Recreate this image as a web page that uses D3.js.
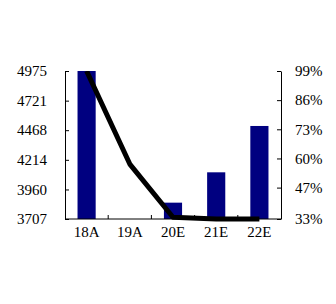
<!DOCTYPE html>
<html>
<head>
<meta charset="utf-8">
<script src="https://cdn.jsdelivr.net/npm/d3@7"></script>
<style>
  html, body { margin: 0; padding: 0; background: #fff; }
  svg { display: block; }
  svg text { font-family: "Liberation Serif", "Times New Roman", Times, serif !important; font-size: 15px !important; fill: #000; }
</style>
</head>
<body>
<svg id="chart" width="336" height="304"></svg>
<script>
  const categories = ["18A", "19A", "20E", "21E", "22E"];
  const barValues = [4975, 3707, 3847, 4107, 4504];
  const lineValues = [99, 57.5, 33.8, 33, 33];
  const leftTicks = [3707, 3960, 4214, 4468, 4721, 4975];
  const rightTicks = [33, 47, 60, 73, 86, 99];

  const margin = { top: 71, right: 55, bottom: 85, left: 65 };
  const width = 336;
  const height = 304;
  const innerW = width - margin.left - margin.right;
  const innerH = height - margin.top - margin.bottom;

  const svg = d3.select("#chart");
  const g = svg.append("g").attr("transform", `translate(${margin.left},${margin.top})`);

  const x = d3.scaleBand().domain(categories).range([0, innerW]).paddingInner(0.58).paddingOuter(0.29);
  const xCenter = (d) => x(d) + x.bandwidth() / 2;
  const yLeft = d3.scaleLinear().domain([3707, 4975]).range([innerH, 0]);
  const yRight = d3.scaleLinear().domain([33, 99]).range([innerH, 0]);

  // bars
  g.selectAll("rect.bar")
    .data(categories)
    .join("rect")
    .attr("class", "bar")
    .attr("x", (d) => x(d))
    .attr("width", x.bandwidth())
    .attr("y", (d, i) => yLeft(barValues[i]))
    .attr("height", (d, i) => innerH - yLeft(barValues[i]))
    .attr("fill", "#000080");

  // left axis, ticks pointing inward
  g.append("g")
    .call(d3.axisLeft(yLeft).tickValues(leftTicks).tickFormat(d3.format("d"))
      .tickSizeInner(-4).tickSizeOuter(0).tickPadding(18));

  // right axis
  g.append("g")
    .attr("transform", `translate(${innerW},0)`)
    .call(d3.axisRight(yRight).tickValues(rightTicks).tickFormat((d) => d + "%")
      .tickSizeInner(-4).tickSizeOuter(0).tickPadding(14));

  // bottom axis: labels at band centres, ticks at band boundaries
  const bottom = g.append("g").attr("transform", `translate(0,${innerH})`);
  bottom.append("line").attr("x1", 0).attr("x2", innerW).attr("stroke", "#000");
  const step = x.step();
  bottom.selectAll("line.tick")
    .data(categories.slice(1))
    .join("line")
    .attr("class", "tick")
    .attr("x1", (d) => xCenter(d) - step / 2)
    .attr("x2", (d) => xCenter(d) - step / 2)
    .attr("y1", 0)
    .attr("y2", -4)
    .attr("stroke", "#000");
  bottom.selectAll("text")
    .data(categories)
    .join("text")
    .attr("x", xCenter)
    .attr("y", 18)
    .attr("text-anchor", "middle")
    .text((d) => d);

  // line, clipped at top of plot
  svg.append("clipPath").attr("id", "clip")
    .append("rect").attr("x", -10).attr("y", 0).attr("width", innerW + 20).attr("height", innerH + 20);

  const line = d3.line()
    .x((d, i) => xCenter(categories[i]))
    .y((d) => yRight(d));

  g.append("path")
    .datum(lineValues)
    .attr("clip-path", "url(#clip)")
    .attr("d", line)
    .attr("fill", "none")
    .attr("stroke", "#000")
    .attr("stroke-width", 5)
    .attr("stroke-linejoin", "round");
</script>
</body>
</html>
